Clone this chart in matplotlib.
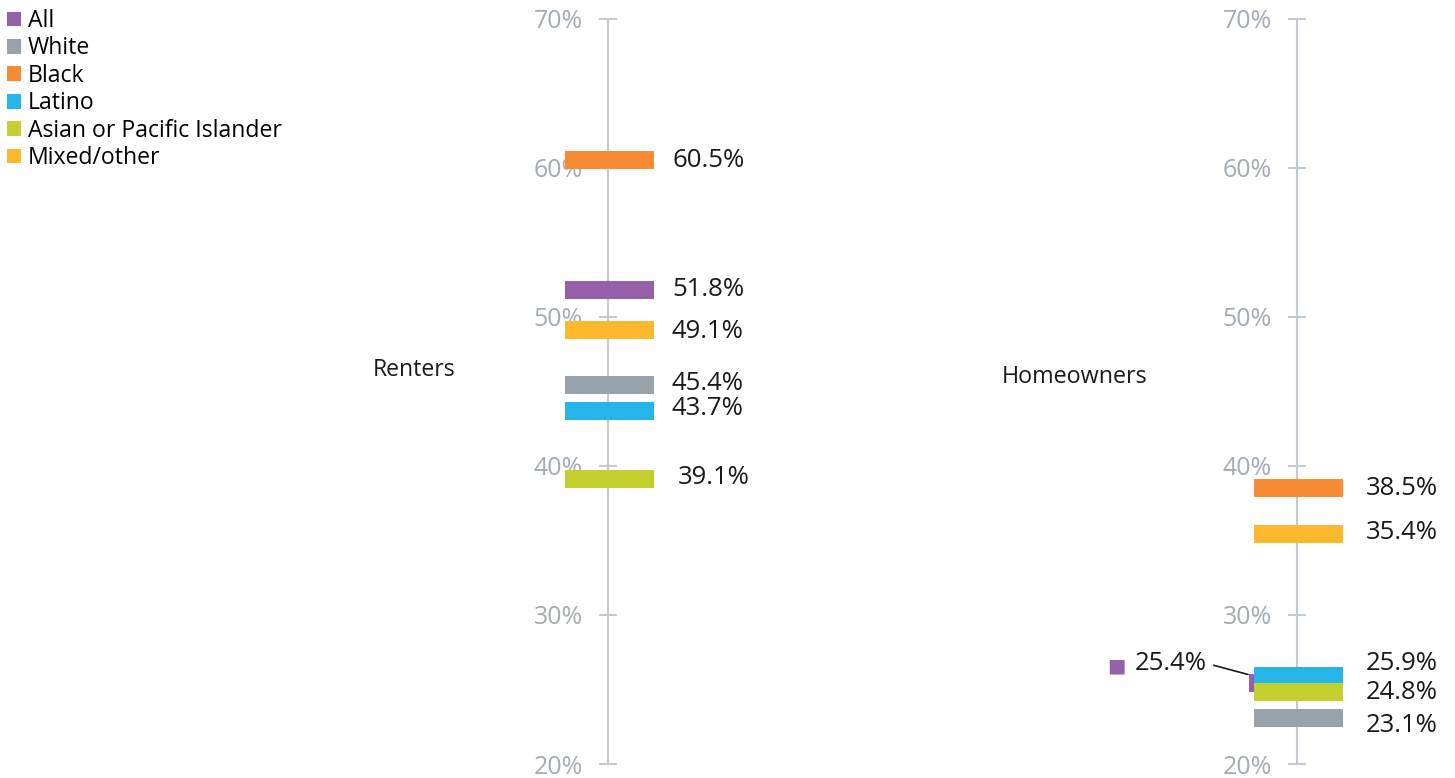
import matplotlib
matplotlib.use("Agg")
import matplotlib.pyplot as plt
from matplotlib.patches import Patch

plt.rcParams['font.family'] = ['Open Sans', 'DejaVu Sans']

# data
groups = ["All", "White", "Black", "Latino", "Asian or Pacific Islander", "Mixed/other"]
colors = ["#9560a8", "#98a2aa", "#f68b33", "#27b4e8", "#c2cf2e", "#fdb92d"]
renters = [51.8, 45.4, 60.5, 43.7, 39.1, 49.1]
homeowners = [25.4, 23.1, 38.5, 25.9, 24.8, 35.4]
yticks = [20, 30, 40, 50, 60, 70]

# label nudges (pixels) so the labels do not overlap
renters_nudge = [(0, 0), (0, 2), (0, 0), (0, 2), (6, 2), (0, -1)]
home_nudge = [(0, 0), (0, -8), (0, 0), (0, 13), (0, 0), (0, 2)]

W, H = 1455, 778
fig = plt.figure(figsize=(W / 100, H / 100), dpi=100)

y_top, y_bot = 18.5, 764  # pixel rows of 70% and 20%
px_per_pct = (y_bot - y_top) / 50
bar_h = 18 / px_per_pct
bar_left, bar_w = -43, 89

axis_col = "#c3cad1"
tick_col = "#a3acb4"
val_size = 18.5


def make_panel(x0, x1, ax_px):
    ax = fig.add_axes([x0 / W, (H - y_bot) / H, (x1 - x0) / W, (y_bot - y_top) / H])
    ax.set_xlim(x0 - ax_px, x1 - ax_px)
    ax.set_ylim(20, 70)
    ax.patch.set_visible(False)
    for s in ["top", "right", "bottom"]:
        ax.spines[s].set_visible(False)
    ax.spines["left"].set_position(("data", 0))
    ax.spines["left"].set_color(axis_col)
    ax.spines["left"].set_linewidth(1.5)
    ax.set_xticks([])
    ax.set_yticks(yticks)
    ax.set_yticklabels([f"{t}%" for t in yticks])
    ax.tick_params(axis="y", direction="inout", length=13, width=1.5,
                   color=axis_col, labelcolor=tick_col, labelsize=18, pad=11.5)
    return ax


# Renters
ax1 = make_panel(540, 800, 608)
for i, g in enumerate(groups):
    ax1.barh(renters[i], bar_w, left=bar_left, height=bar_h, color=colors[i], zorder=3)
    dx, dy = renters_nudge[i]
    ax1.annotate(f"{renters[i]:.1f}%", (bar_left + bar_w, renters[i]),
                 xytext=(18 + dx, dy), textcoords="offset pixels",
                 ha="left", va="center", fontsize=val_size, color="#1a1a1a")

# Homeowners
ax2 = make_panel(1200, 1455, 1297)
for i, g in enumerate(groups):
    if g == "All":
        # partly hidden behind the others, labelled on the left
        ax2.barh(homeowners[i], bar_w, left=bar_left - 5, height=bar_h,
                 color=colors[i], zorder=2)
        ax2.annotate(f"{homeowners[i]:.1f}%", (bar_left - 6, homeowners[i] + bar_h / 2),
                     xytext=(-41, 11), textcoords="offset pixels",
                     ha="right", va="center", fontsize=val_size, color="#1a1a1a",
                     arrowprops=dict(arrowstyle="-", color="#1a1a1a", lw=1.2,
                                     relpos=(1, 0.5), shrinkA=3, shrinkB=0))
        ax2.annotate("\u25a0", (bar_left - 6, homeowners[i] + bar_h / 2),
                     xytext=(-132, 9), textcoords="offset pixels",
                     ha="center", va="center", fontsize=14, color=colors[i],
                     family=["DejaVu Sans"])
        continue
    ax2.barh(homeowners[i], bar_w, left=bar_left, height=bar_h, color=colors[i], zorder=3)
    dx, dy = home_nudge[i]
    ax2.annotate(f"{homeowners[i]:.1f}%", (bar_left + bar_w, homeowners[i]),
                 xytext=(23 + dx, dy), textcoords="offset pixels",
                 ha="left", va="center", fontsize=val_size, color="#1a1a1a")

# category names
fig.text(414 / W, 1 - 370 / H, "Renters", ha="center", va="center",
         fontsize=16.6, color="#1a1a1a")
fig.text(1075 / W, 1 - 377 / H, "Homeowners", ha="center", va="center",
         fontsize=16.8, color="#1a1a1a")

# legend
handles = [Patch(facecolor=c, edgecolor="none") for c in colors]
fig.legend(handles, groups, loc="upper left", bbox_to_anchor=(7 / W, 1 - 9 / H),
           frameon=False, fontsize=16.6, handlelength=0.6, handleheight=0.6,
           handletextpad=0.3, labelspacing=0.15, borderpad=0, borderaxespad=0)

fig.savefig("out.png", dpi=100)
